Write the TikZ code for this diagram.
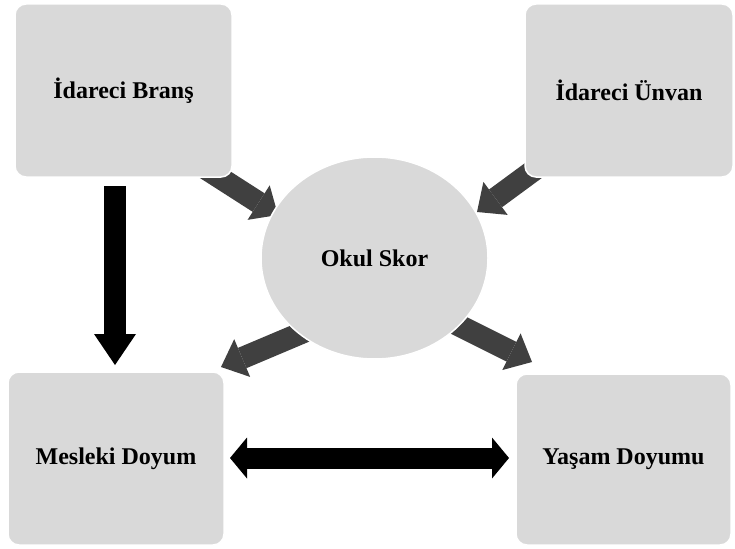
\documentclass[tikz,border=0pt]{standalone}
\usepackage{fontspec}
\setmainfont{Liberation Serif}
\usetikzlibrary{arrows.meta,shapes.geometric}
\definecolor{boxgray}{HTML}{D9D9D9}
\definecolor{arrgray}{HTML}{404040}
\tikzset{
  box/.style={draw=white,line width=1.5pt,fill=boxgray,rounded corners=11pt,inner sep=0pt,
    font=\fontsize{24}{28}\selectfont\bfseries},
  ovalnode/.style={ellipse,draw=white,line width=1.5pt,fill=boxgray,inner sep=0pt,
    minimum width=227pt,minimum height=202pt,font=\fontsize{24}{28}\selectfont\bfseries},
  grayarrow/.style={draw=arrgray,line width=22pt,
    -{Triangle[length=23pt,width=41pt,line width=0pt]},color=arrgray},
  downarrow/.style={draw=black,line width=22pt,
    -{Triangle[length=31pt,width=42pt,line width=0pt]}},
  botharrow/.style={draw=black,line width=21pt,
    {Triangle[length=17pt,width=41pt,line width=0pt]}-{Triangle[length=17pt,width=41pt,line width=0pt]}},
}
\begin{document}
\begin{tikzpicture}[x=1pt,y=-1pt]
\useasboundingbox (0,0) rectangle (735,548);
% connector end points
\coordinate (aS) at (200,165);
\coordinate (aE) at (278,215);
\coordinate (bS) at (545,162);
\coordinate (bE) at (477,212);
\coordinate (cS) at (318,326);
\coordinate (cE) at (221,367);
\coordinate (dS) at (440,316);
\coordinate (dE) at (532,362);
\coordinate (eS) at (115,186);
\coordinate (eE) at (115,365);
\coordinate (fS) at (230,458);
\coordinate (fE) at (509,458);
% connectors
\draw[grayarrow] (aS) -- (aE);
\draw[grayarrow] (bS) -- (bE);
\draw[grayarrow] (cS) -- (cE);
\draw[grayarrow] (dS) -- (dE);
\draw[downarrow] (eS) -- (eE);
\draw[botharrow] (fS) -- (fE);
% nodes
\node[box,minimum width=217pt,minimum height=173pt] (b1) at (123.5,90.5) {İdareci Branş};
\node[box,minimum width=208pt,minimum height=173pt] (b2) at (629,90.5) {İdareci Ünvan};
\node[box,minimum width=216pt,minimum height=173pt] (b3) at (116,458.5) {Mesleki Doyum};
\node[box,minimum width=215pt,minimum height=171pt] (b4) at (623.5,459.5) {Yaşam Doyumu};
\node[ovalnode] (c) at (374.5,258) {Okul Skor};
\end{tikzpicture}
\end{document}
